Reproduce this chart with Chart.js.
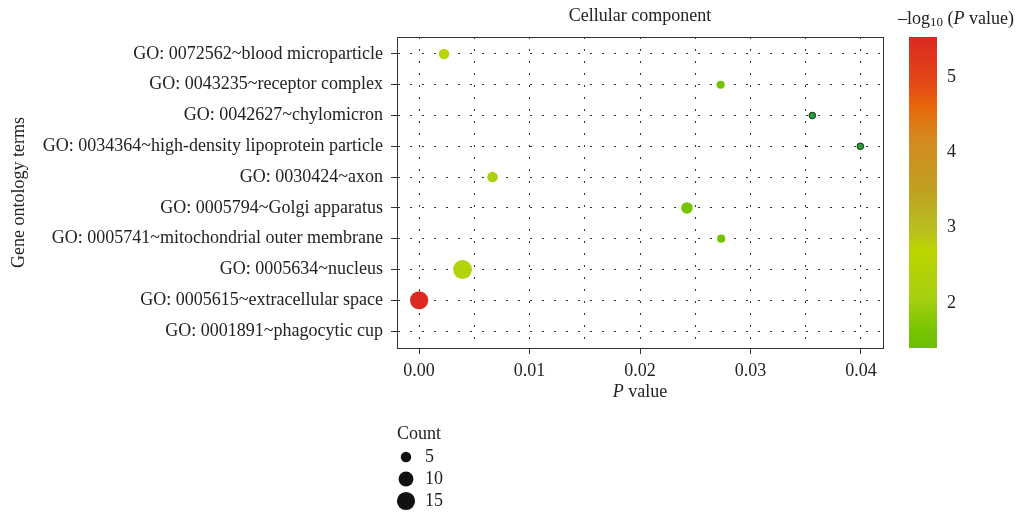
<!DOCTYPE html>
<html>
<head>
<meta charset="utf-8">
<script src="https://cdn.jsdelivr.net/npm/chart.js"></script>
<style>
  html, body { margin: 0; background: #fff; }
  #wrap { width: 1019px; height: 517px; }
</style>
</head>
<body>
<div id="wrap"><canvas id="myChart"></canvas></div>
<script>
// GO terms, top to bottom
let terms = [
    'GO: 0072562~blood microparticle',
    'GO: 0043235~receptor complex',
    'GO: 0042627~chylomicron',
    'GO: 0034364~high-density lipoprotein particle',
    'GO: 0030424~axon',
    'GO: 0005794~Golgi apparatus',
    'GO: 0005741~mitochondrial outer membrane',
    'GO: 0005634~nucleus',
    'GO: 0005615~extracellular space',
    'GO: 0001891~phagocytic cup'
];

// p value of each term (no dot drawn for the last one)
let pValues = [0.00226, 0.0273, 0.0356, 0.03995, 0.00665, 0.02425, 0.02735, 0.00393, 0.000003, null];

// gene count of each term
let counts = [5, 3, 2, 2, 5, 6, 3, 16, 15, null];

let xTicks = [0, 0.005, 0.01, 0.015, 0.02, 0.025, 0.03, 0.035, 0.04];
let colorTicks = [2, 3, 4, 5];
let countLegend = [5, 10, 15];

// colour scale of -log10(p)
const cbMin = 1.40, cbMax = 5.53, naBelow = 1.46;
const colorStops = [
    [1.40, [108, 192, 0]],
    [1.64, [120, 196, 0]],
    [2.08, [168, 208, 16]],
    [2.70, [188, 212, 0]],
    [2.97, [184, 192, 32]],
    [3.50, [192, 160, 32]],
    [4.16, [212, 138, 32]],
    [4.60, [232, 104, 10]],
    [5.00, [226, 66, 24]],
    [5.53, [220, 42, 34]]
];

function scaleColor(v) {
    if (v <= colorStops[0][0]) return 'rgb(' + colorStops[0][1].join(',') + ')';
    for (let i = 1; i < colorStops.length; i++) {
        if (v <= colorStops[i][0]) {
            const a = colorStops[i - 1], b = colorStops[i];
            const t = (v - a[0]) / (b[0] - a[0]);
            const c = a[1].map((x, k) => Math.round(x + (b[1][k] - x) * t));
            return 'rgb(' + c.join(',') + ')';
        }
    }
    return 'rgb(' + colorStops[colorStops.length - 1][1].join(',') + ')';
}

function sizeOf(c) {
    return 2.35 * Math.sqrt(c);
}

const SERIF = '"Liberation Serif", "Times New Roman", serif';
const FS = 18;
const txt = '#222';

const points = [];
const fills = [];
const borders = [];
const borderWidths = [];
const radii = [];
pValues.forEach((p, i) => {
    if (p === null) return;
    const lp = -Math.log10(p);
    points.push({ x: p, y: i });
    radii.push(sizeOf(counts[i]));
    if (lp < naBelow) {
        fills.push('#22a236');
        borders.push('#1b2e1b');
        borderWidths.push(1);
    } else {
        fills.push(scaleColor(lp));
        borders.push(scaleColor(lp));
        borderWidths.push(0);
    }
});

function drawRich(ctx, parts, x, y, align) {
    let w = 0;
    parts.forEach(p => { ctx.font = p.font; w += ctx.measureText(p.t).width; });
    let cx = align === 'center' ? x - w / 2 : x;
    ctx.textAlign = 'left';
    ctx.textBaseline = 'middle';
    parts.forEach(p => {
        ctx.font = p.font;
        ctx.fillText(p.t, cx, y + (p.dy || 0));
        cx += ctx.measureText(p.t).width;
    });
}

const extras = {
    id: 'extras',
    afterDraw(chart) {
        const ctx = chart.ctx;
        const area = chart.chartArea;
        const cb = chart.scales.cb;
        ctx.save();

        // box round the panel
        ctx.strokeStyle = '#333';
        ctx.lineWidth = 1;
        ctx.strokeRect(Math.round(area.left) + 0.5, Math.round(area.top) + 0.5,
            Math.round(area.right - area.left), Math.round(area.bottom - area.top));

        ctx.fillStyle = txt;
        const norm = FS + 'px ' + SERIF;
        const ital = 'italic ' + FS + 'px ' + SERIF;

        // panel title
        drawRich(ctx, [{ t: 'Cellular component', font: norm }], (area.left + area.right) / 2, 16, 'center');

        // x axis title
        drawRich(ctx, [{ t: 'P', font: ital }, { t: ' value', font: norm }],
            (area.left + area.right) / 2, 392, 'center');

        // colour bar
        const bx = cb.left + 26, bw = 28;
        const yTop = cb.getPixelForValue(cbMax), yBot = cb.getPixelForValue(cbMin);
        const grad = ctx.createLinearGradient(0, yBot, 0, yTop);
        colorStops.forEach(s => {
            grad.addColorStop((s[0] - cbMin) / (cbMax - cbMin), 'rgb(' + s[1].join(',') + ')');
        });
        ctx.fillStyle = grad;
        ctx.fillRect(bx, yTop, bw, yBot - yTop);

        ctx.fillStyle = txt;
        drawRich(ctx, [
            { t: '\u2013log', font: norm },
            { t: '10', font: '13px ' + SERIF, dy: 4 },
            { t: ' (', font: norm },
            { t: 'P', font: ital },
            { t: ' value)', font: norm }
        ], 898, 19, 'left');

        // count legend
        drawRich(ctx, [{ t: 'Count', font: norm }], 397, 434, 'left');
        countLegend.forEach((c, i) => {
            const cy = 457 + i * 22;
            ctx.fillStyle = '#111';
            ctx.beginPath();
            ctx.arc(406, cy, sizeOf(c), 0, Math.PI * 2);
            ctx.fill();
            ctx.fillStyle = txt;
            drawRich(ctx, [{ t: String(c), font: norm }], 425, cy, 'left');
        });

        ctx.restore();
    }
};

const myChart = document.getElementById('myChart').getContext('2d');

const dotChart = new Chart(myChart, {
    type: 'scatter',
    data: {
        datasets: [{
            data: points,
            pointRadius: radii,
            pointHoverRadius: radii,
            backgroundColor: fills,
            borderColor: borders,
            borderWidth: borderWidths
        }]
    },
    options: {
        responsive: true,
        maintainAspectRatio: false,
        animation: false,
        events: [],
        layout: { padding: { top: 37, left: 0, right: 0, bottom: 0 } },
        plugins: {
            legend: { display: false },
            tooltip: { enabled: false },
            title: { display: false }
        },
        scales: {
            x: {
                type: 'linear',
                position: 'bottom',
                min: -0.002,
                max: 0.042,
                afterBuildTicks: s => { s.ticks = xTicks.map(v => ({ value: v })); },
                afterFit: s => { s.height = 169; },
                ticks: {
                    autoSkip: false,
                    maxRotation: 0,
                    padding: 6,
                    color: txt,
                    font: { family: SERIF, size: FS },
                    callback: (v, i) => i % 2 ? '' : v.toFixed(2)
                },
                grid: {
                    color: '#333',
                    lineWidth: 1,
                    tickLength: 6,
                    tickColor: c => c.index % 2 ? 'rgba(0,0,0,0)' : '#333'
                },
                border: { display: true, color: '#333', width: 1, dash: [2, 10] }
            },
            y: {
                type: 'linear',
                position: 'left',
                reverse: true,
                min: -0.55,
                max: 9.55,
                afterBuildTicks: s => { s.ticks = terms.map((t, i) => ({ value: i })); },
                afterFit: s => { s.width = 397; },
                ticks: {
                    autoSkip: false,
                    padding: 8,
                    color: txt,
                    font: { family: SERIF, size: FS },
                    callback: v => terms[v]
                },
                grid: {
                    color: '#333',
                    lineWidth: 1,
                    tickLength: 6,
                    tickColor: '#333'
                },
                border: { display: true, color: '#333', width: 1, dash: [2, 10] },
                title: {
                    display: true,
                    text: 'Gene ontology terms',
                    color: txt,
                    font: { family: SERIF, size: FS },
                    padding: { top: 8, bottom: 0 }
                }
            },
            cb: {
                type: 'linear',
                position: 'right',
                min: cbMin,
                max: cbMax,
                afterBuildTicks: s => { s.ticks = colorTicks.map(v => ({ value: v })); },
                afterFit: s => { s.width = 136; },
                ticks: {
                    padding: 4,
                    color: txt,
                    font: { family: SERIF, size: FS },
                    callback: v => String(v)
                },
                grid: {
                    display: true,
                    drawOnChartArea: false,
                    drawTicks: true,
                    tickLength: 60,
                    tickColor: 'rgba(0,0,0,0)'
                },
                border: { display: false }
            }
        }
    },
    plugins: [extras]
});
</script>
</body>
</html>
